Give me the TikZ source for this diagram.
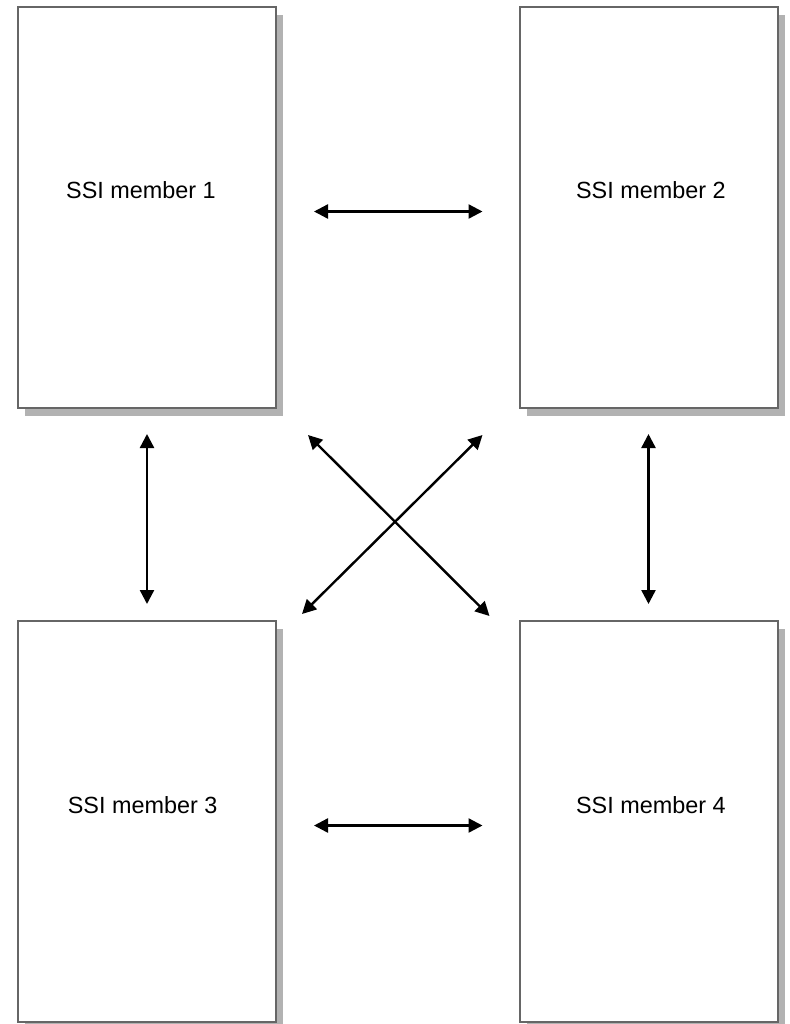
\documentclass[tikz,border=0pt]{standalone}
\usepackage{fontspec}
\setmainfont{Liberation Sans}
\usetikzlibrary{positioning,arrows.meta,shadows}
\tikzstyle{member} = [draw=black!60, line width=1pt, fill=white, minimum width=129pt, minimum height=200.5pt, inner sep=0pt, drop shadow={shadow xshift=3.5pt, shadow yshift=-4pt, fill=black!30, opacity=1}]
\tikzstyle{arrow} = [line width=1.2pt, {Triangle[length=7pt,width=7pt]}-{Triangle[length=7pt,width=7pt]}]
\tikzstyle{membertext} = [font=\fontsize{11.7}{14}\selectfont]

\begin{document}
\begin{tikzpicture}[x=0.5pt,y=-0.5pt]
\useasboundingbox (0,0) rectangle (790,1024);

\node[member] (m1) at (147,207.5) {};
\node[member] (m2) at (648.5,207.5) {};
\node[member] (m3) at (147,821.5) {};
\node[member] (m4) at (648.5,821.5) {};

\node[membertext] (t1) at ([xshift=-3pt,yshift=8.5pt]m1.center) {SSI member 1};
\node[membertext] (t2) at ([xshift=1.2pt,yshift=8.5pt]m2.center) {SSI member 2};
\node[membertext] (t3) at ([xshift=-2.2pt,yshift=8.2pt]m3.center) {SSI member 3};
\node[membertext] (t4) at ([xshift=1.2pt,yshift=8.2pt]m4.center) {SSI member 4};

\draw [arrow, shorten <=18.5pt, shorten >=18pt] ([yshift=-2pt]m1.east) -- ([yshift=-2pt]m2.west);
\draw [arrow, shorten <=18.5pt, shorten >=18pt] ([yshift=-2pt]m3.east) -- ([yshift=-2pt]m4.west);
\draw [arrow, shorten <=12.5pt, shorten >=8pt] (m1.south) -- (m3.north);
\draw [arrow, shorten <=12.5pt, shorten >=8pt] (m2.south) -- (m4.north);

% the cross in the middle
\draw [arrow] ([xshift=15.5pt,yshift=-13pt]m1.south east) -- ([xshift=-14.5pt,yshift=2pt]m4.north west);
\draw [arrow] ([xshift=-18pt,yshift=-13pt]m2.south west) -- ([xshift=12.5pt,yshift=3pt]m3.north east);
\end{tikzpicture}
\end{document}
